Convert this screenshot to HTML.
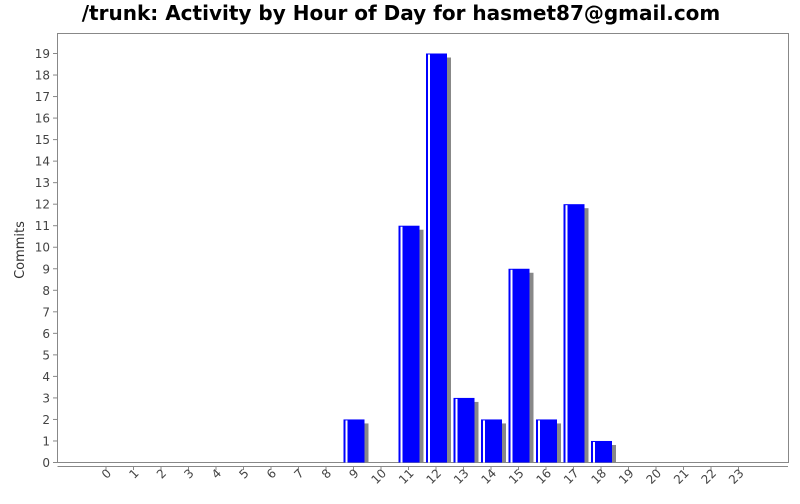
<!DOCTYPE html>
<html><head><meta charset="utf-8"><style>
body{margin:0;background:#fff;width:800px;height:500px;overflow:hidden;font-family:"DejaVu Sans","Liberation Sans",sans-serif}
</style></head><body>
<svg id="c" width="800" height="500" font-family="DejaVu Sans, Liberation Sans, sans-serif">
<text x="401" y="20" text-anchor="middle" font-size="20" font-weight="bold">/trunk: Activity by Hour of Day for hasmet87@gmail.com</text>
<rect x="57.5" y="33.5" width="731" height="429" fill="#fff" stroke="#888"/>
<line x1="57.5" y1="466.5" x2="788" y2="466.5" stroke="#888"/>
<text x="24" y="250" transform="rotate(-90 24 250)" text-anchor="middle" font-size="13" fill="#333">Commits</text>
<g id="g"></g>
</svg>
<script>
const hours=['0','1','2','3','4','5','6','7','8','9','10','11','12','13','14','15','16','17','18','19','20','21','22','23'];
const commits=[0,0,0,0,0,0,0,0,0,2,0,11,19,3,2,9,2,12,1,0,0,0,0,0];
const yTicks=[0,1,2,3,4,5,6,7,8,9,10,11,12,13,14,15,16,17,18,19];
const NS='http://www.w3.org/2000/svg';
const g=document.getElementById('g');
const y=v=>462.5-v*(462.5-53.5)/19;
const x=i=>106+i*27.5;
function mk(t,a){const e=document.createElementNS(NS,t);for(const k in a)e.setAttribute(k,a[k]);g.appendChild(e);return e;}
yTicks.forEach(v=>{
 const l=mk('line',{x1:53,x2:57,y1:y(v),y2:y(v),stroke:'#888'});
 
 
 const t=mk('text',{x:50,y:y(v)+4.5,'text-anchor':'end','font-size':12,fill:'#444'});
 t.textContent=v;
 
 
});
hours.forEach((h,i)=>{
 const l=mk('line',{x1:x(i),x2:x(i),y1:466,y2:470,stroke:'#888'});
 
 
 const tx=x(i)+6,ty=474;
 const t=mk('text',{x:tx,y:ty,'text-anchor':'end','font-size':12,fill:'#444',transform:`rotate(-45 ${tx} ${ty})`});
 t.textContent=h;
 
 
 const v=commits[i];
 if(v>0){
  const s=mk('rect',{x:x(i)-10+4,y:y(v)+4,width:21,height:462.5-y(v)-4,fill:'#888'});
  
  
  const b=mk('rect',{x:x(i)-10,y:y(v),width:21,height:462.5-y(v),fill:'#0000ff'});
  
  
  const w=mk('rect',{x:x(i)-8,y:y(v)+1,width:2,height:462.5-y(v)-1,fill:'#fff'});
  
  
 }
});
</script>
</body></html>
